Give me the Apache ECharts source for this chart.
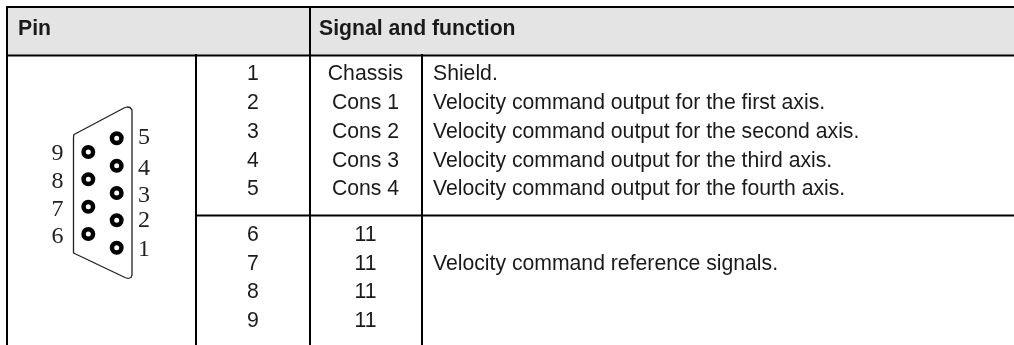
<!DOCTYPE html>
<html>
<head>
<meta charset="utf-8">
<title>Pin table</title>
<style>
  html, body { margin: 0; padding: 0; background: #fff; }
  #main { width: 1014px; height: 345px; }
</style>
<script src="https://cdn.jsdelivr.net/npm/echarts@6/dist/echarts.min.js"></script>
</head>
<body>
<div id="main"></div>
<script>
// table content
const headers = ['Pin', 'Signal and function']
const pinNumbers = ['1', '2', '3', '4', '5', '6', '7', '8', '9']
const signalNames = ['Chassis', 'Cons 1', 'Cons 2', 'Cons 3', 'Cons 4', '11', '11', '11', '11']
const functionTexts = [
  'Shield.',
  'Velocity command output for the first axis.',
  'Velocity command output for the second axis.',
  'Velocity command output for the third axis.',
  'Velocity command output for the fourth axis.',
  '',
  'Velocity command reference signals.',
  '',
  ''
]
const rightPins = ['5', '4', '3', '2', '1']
const leftPins = ['9', '8', '7', '6']

// layout, in picture pixels (the axes below run 1:1 with the page)
const rowY = [74, 103.5, 132.5, 161, 189.5, 235, 264, 292.5, 321.5]
const rightPinY = [138.3, 165.7, 193, 220.3, 247.7]
const leftPinY = [152, 179.3, 206.7, 234]
const rightLabelY = [137.5, 168.5, 195.5, 220.5, 249.5]
const leftLabelY = [153.5, 181.5, 209.5, 236.5]
const rules = [
  [7, 6, 7, 345], [310, 6, 310, 345], [196, 54, 196, 345], [422, 54, 422, 345],
  [6, 7, 1014, 7], [6, 55.5, 1014, 55.5], [196, 215.5, 1014, 215.5]
]
const shell = [
  [73.5, 137], [74, 134.5], [76, 132.5], [124, 108], [127, 107], [130, 107.5], [132, 110],
  [132, 275], [131, 277.5], [128, 278.5], [125, 277.5], [73.5, 253], [73.5, 137]
]

function cellTexts() {
  const out = []
  headers.forEach((t, i) => out.push({ x: [18, 319][i], y: 29.5, text: t, bold: true }))
  pinNumbers.forEach((t, i) => out.push({ x: 253, y: rowY[i], text: t, align: 'center' }))
  signalNames.forEach((t, i) => out.push({ x: 365.5, y: rowY[i], text: t, align: 'center' }))
  functionTexts.forEach((t, i) => { if (t) out.push({ x: 433, y: rowY[i], text: t }) })
  return out
}
const cells = cellTexts()
const pinLabels = rightPins.map((p, i) => ({ x: 144, y: rightLabelY[i], text: p, align: 'center' }))
  .concat(leftPins.map((p, i) => ({ x: 57.5, y: leftLabelY[i], text: p, align: 'center' })))

const chart = echarts.init(document.getElementById('main'), null, { renderer: 'canvas' })

function textSeries(items, font, fill) {
  return {
    type: 'custom',
    silent: true,
    z: 5,
    data: items.map((d) => [d.x, d.y]),
    renderItem(params, api) {
      const c = api.coord([api.value(0), api.value(1)])
      const item = items[params.dataIndex]
      return {
        type: 'text',
        x: c[0],
        y: c[1],
        style: {
          text: item.text,
          fill: fill,
          font: (item.bold ? 'bold ' : '') + font,
          align: item.align || 'left',
          verticalAlign: 'middle'
        }
      }
    }
  }
}

chart.setOption({
  animation: false,
  backgroundColor: '#ffffff',
  grid: { left: 0, right: 0, top: 0, bottom: 0 },
  xAxis: { type: 'value', min: 0, max: 1014, show: false },
  yAxis: { type: 'value', min: 0, max: 345, inverse: true, show: false },
  series: [
    {
      // table rules
      type: 'custom',
      silent: true,
      clip: false,
      data: rules,
      renderItem(params, api) {
        const a = api.coord([api.value(0), api.value(1)])
        const b = api.coord([api.value(2), api.value(3)])
        return {
          type: 'line',
          shape: { x1: a[0], y1: a[1], x2: b[0], y2: b[1] },
          style: { stroke: '#000', lineWidth: 2 }
        }
      },
      z: 3
    },
    {
      // header band
      type: 'custom',
      silent: true,
      data: [[7, 7, 1014, 55]],
      renderItem(params, api) {
        const a = api.coord([api.value(0), api.value(1)])
        const b = api.coord([api.value(2), api.value(3)])
        return {
          type: 'rect',
          shape: { x: a[0], y: a[1], width: b[0] - a[0], height: b[1] - a[1] },
          style: { fill: '#e4e4e4' }
        }
      },
      z: 1
    },
    {
      // connector outline
      type: 'line',
      silent: true,
      showSymbol: false,
      data: shell,
      lineStyle: { color: '#222', width: 1.3 },
      z: 2
    },
    {
      // pins
      type: 'scatter',
      silent: true,
      symbol: 'circle',
      symbolSize: 9.5,
      itemStyle: { color: '#fff', borderColor: '#000', borderWidth: 4.5, opacity: 1 },
      data: rightPins.map((p, i) => [116.7, rightPinY[i]]).concat(leftPins.map((p, i) => [88.3, leftPinY[i]])),
      z: 4
    },
    textSeries(pinLabels, '24px "Liberation Serif"', '#222'),
    textSeries(cells, '21.2px "Liberation Sans"', '#1a1a1a')
  ]
})
</script>
</body>
</html>
